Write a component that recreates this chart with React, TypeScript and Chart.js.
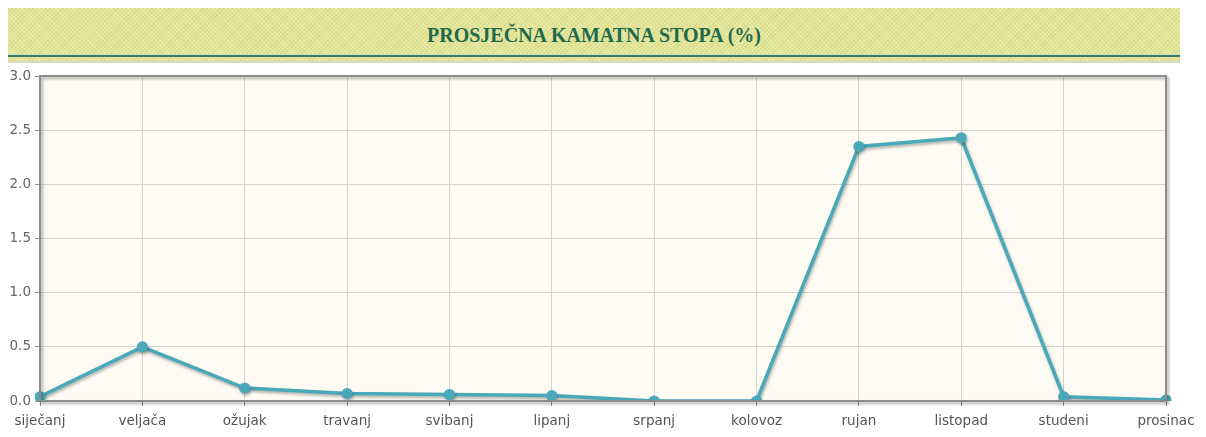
import React, { useEffect, useRef } from "react";
import { Chart, registerables } from "chart.js";

Chart.register(...registerables);

const TITLE = "PROSJEČNA KAMATNA STOPA (%)";
const months = [
  "siječanj", "veljača", "ožujak", "travanj", "svibanj", "lipanj",
  "srpanj", "kolovoz", "rujan", "listopad", "studeni", "prosinac",
];
const rates = [0.04, 0.5, 0.12, 0.07, 0.06, 0.05, 0.0, 0.0, 2.35, 2.43, 0.04, 0.01];
const yMin = 0;
const yMax = 3;
const yStep = 0.5;

const LINE_COLOR = "#4aa9b9";

const decorPlugin = {
  id: "decor",
  beforeDraw(chart: any) {
    const { ctx, chartArea: a } = chart;
    ctx.save();
    ctx.fillStyle = "#fdfbf4";
    ctx.fillRect(a.left, a.top, a.right - a.left, a.bottom - a.top);
    ctx.restore();
  },
  afterDatasetsDraw(chart: any) {
    const { ctx, chartArea: a } = chart;
    ctx.save();
    ctx.shadowColor = "rgba(0,0,0,0.35)";
    ctx.shadowOffsetX = 2;
    ctx.shadowOffsetY = 2;
    ctx.shadowBlur = 3;
    ctx.strokeStyle = "#8c8c8c";
    ctx.lineWidth = 2;
    ctx.strokeRect(a.left, a.top, a.right - a.left, a.bottom - a.top);
    ctx.restore();
  },
  beforeDatasetDraw(chart: any) {
    const ctx = chart.ctx;
    ctx.save();
    ctx.shadowColor = "rgba(0,0,0,0.3)";
    ctx.shadowOffsetX = 1;
    ctx.shadowOffsetY = 2;
    ctx.shadowBlur = 3;
  },
  afterDatasetDraw(chart: any) {
    chart.ctx.restore();
  },
};

export default function App() {
  const ref = useRef<HTMLCanvasElement | null>(null);

  useEffect(() => {
    if (!ref.current) return;
    const tickFont = { family: "'DejaVu Sans', sans-serif", size: 13.5 };
    const chart = new Chart(ref.current, {
      type: "line",
      data: {
        labels: months,
        datasets: [
          {
            data: rates,
            borderColor: LINE_COLOR,
            backgroundColor: LINE_COLOR,
            borderWidth: 3.5,
            pointRadius: 5.5,
            pointBorderWidth: 0,
            pointBackgroundColor: LINE_COLOR,
            tension: 0,
            fill: false,
          },
        ],
      },
      options: {
        animation: false,
        responsive: false,
        events: [],
        layout: { padding: { top: 76, right: 40, left: 0, bottom: 0 } },
        plugins: { legend: { display: false }, tooltip: { enabled: false }, title: { display: false } },
        scales: {
          x: {
            offset: false,
            grid: { color: "#d6d3cf", tickColor: "#8c8c8c", tickLength: 5, lineWidth: 1 },
            border: { display: false },
            ticks: { color: "#555", font: tickFont, padding: 7, maxRotation: 0, autoSkip: false },
            afterFit: (s: any) => { s.height = 36; },
          },
          y: {
            min: yMin,
            max: yMax,
            grid: { color: "#d6d3cf", tickColor: "#8c8c8c", tickLength: 5, lineWidth: 1 },
            border: { display: false },
            ticks: {
              stepSize: yStep,
              color: "#666",
              font: tickFont,
              padding: 4,
              callback: (v: any) => Number(v).toFixed(1),
            },
            afterFit: (s: any) => { s.width = 40; },
          },
        },
      },
      plugins: [decorPlugin],
    });
    return () => chart.destroy();
  }, []);

  return (
    <div style={{ position: "fixed", left: 0, top: 0, width: 1206, height: 437, background: "#fff" }}>
      <div
        style={{
          position: "absolute",
          left: 8,
          top: 8,
          width: 1172,
          height: 55,
          backgroundColor: "#e3e596",
          backgroundImage:
            "repeating-linear-gradient(45deg, rgba(255,255,255,0.22) 0 1px, transparent 1px 3px), repeating-linear-gradient(-45deg, rgba(150,150,50,0.14) 0 1px, transparent 1px 3px)",
        }}
      >
        <div
          style={{
            position: "absolute",
            left: 0,
            right: 0,
            top: 15,
            textAlign: "center",
            fontFamily: "'Liberation Serif', 'DejaVu Serif', serif",
            fontWeight: "bold",
            fontSize: 20,
            lineHeight: "24px",
            color: "#1e6a4c",
          }}
        >
          {TITLE}
        </div>
        <div style={{ position: "absolute", left: 0, right: 0, top: 46, height: 1, background: "#bfe8d8" }} />
        <div style={{ position: "absolute", left: 0, right: 0, top: 47, height: 2, background: "#3c7860" }} />
        <div style={{ position: "absolute", left: 0, right: 0, top: 53, height: 2, background: "#d9d9c4" }} />
      </div>
      <canvas ref={ref} width={1206} height={437} style={{ position: "absolute", left: 0, top: 0 }} />
    </div>
  );
}
